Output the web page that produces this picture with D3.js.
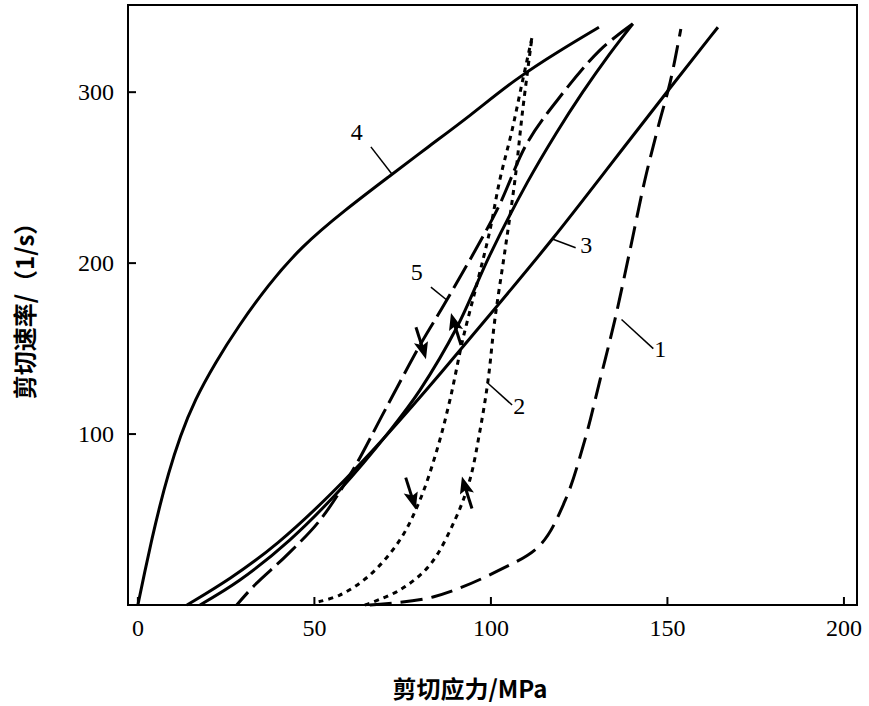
<!DOCTYPE html>
<html><head><meta charset="utf-8">
<script src="https://cdn.jsdelivr.net/npm/d3@7.9.0/dist/d3.min.js"></script>
<style>body{margin:0;background:#fff}</style>
</head><body>
<svg width="869" height="706"></svg>
<script>
// data in (shear stress MPa, shear rate 1/s)
const curve1 = [[65.7,0],[83.6,4.7],[102.5,20.5],[113.9,35],[121,61],[126.6,96.5],[130.9,131.6],[135.1,166.7],[139.4,207.6],[143.6,248.5],[147.8,283],[150.8,306],[153.8,337]];
const curve2Down = [[111.6,331.6],[109,307],[106,277.8],[102.5,248.5],[99.7,219],[96.3,190],[92,155],[88.4,120],[84.7,90.6],[79.9,61.4],[74.2,38],[65.7,17.5],[57.2,5.8],[51,1.8]];
const curve2Up = [[64.3,0],[74.2,8.8],[82.7,23.4],[89.8,49.7],[94,73],[96.9,102],[99.2,131.6],[101.1,166.7],[104,207.6],[106.8,248.5],[109,289.5],[111.6,331.6]];
const curve3 = [[13.9,0],[26,15],[39.4,35],[55,65],[70.5,99],[86,136],[101.4,174],[117.6,214],[134,258],[151.3,304],[164.3,338]];
const curve4 = [[0,0],[2,20],[4,39],[6.2,58],[8.5,76],[12,99],[16.1,120],[22,142],[28.3,162.6],[36.8,187],[46.2,209.5],[58.6,231],[71.7,251.5],[82.2,268],[94,286],[106.8,307.6],[120,325],[130.6,338]];
const curve5Up = [[17.6,0],[28.9,14.6],[43,38],[57.2,67.3],[71.4,102],[79.9,125.7],[90.4,162.6],[99.7,204.7],[110.2,246.8],[118.5,276],[126,300],[133.5,322],[140.2,340]];
const curve5Down = [[140.2,340],[130.9,324.6],[118.7,295],[110.2,270],[101.7,231],[87.5,178.4],[79.9,152],[70,114],[60.9,78.9],[51.6,49.7],[42.2,29.2],[33.1,11.7],[28,0]];
const xTicks = [0,50,100,150,200];
const yTicks = [100,200,300];
// arrows: [x, y, direction]
const arrows = [[79.9,152,'down'],[77,64,'down'],[90.4,162.6,'up'],[93.5,67,'up']];
// curve labels: text, label pos, leader start, leader end
const labels = [
  ['4',[62,272],[66,268],[72,252]],
  ['5',[79,190],[83,186],[87.5,178.4]],
  ['3',[127,206],[124,209],[117.6,214]],
  ['1',[148,145],[146,150],[137,167]],
  ['2',[108,112],[106,117],[99,130]]
];

const svg = d3.select('svg');
const mLeft = 128, mRight = 857, mTop = 5, mBottom = 605;
const x = d3.scaleLinear().domain([-2.8, 203.7]).range([mLeft, mRight]);
const y = d3.scaleLinear().domain([0, 351]).range([mBottom, mTop]);
const line = d3.line().x(d => x(d[0])).y(d => y(d[1])).curve(d3.curveCatmullRom);
const smooth = d3.line().x(d => x(d[0])).y(d => y(d[1])).curve(d3.curveBasis);

svg.append('rect').attr('x', mLeft).attr('y', mTop).attr('width', mRight - mLeft).attr('height', mBottom - mTop)
  .attr('fill', 'none').attr('stroke', '#000').attr('stroke-width', 2);

xTicks.forEach(t => {
  svg.append('line').attr('x1', x(t)).attr('x2', x(t)).attr('y1', mBottom).attr('y2', mBottom - 8).attr('stroke', '#000').attr('stroke-width', 2);
  svg.append('text').attr('x', x(t)).attr('y', 636).attr('text-anchor', 'middle')
    .attr('font-family', 'Liberation Serif').attr('font-size', 24).text(t);
});
yTicks.forEach(t => {
  svg.append('line').attr('x1', mLeft).attr('x2', mLeft + 8).attr('y1', y(t)).attr('y2', y(t)).attr('stroke', '#000').attr('stroke-width', 2);
  svg.append('text').attr('x', 114).attr('y', y(t) + 8).attr('text-anchor', 'end')
    .attr('font-family', 'Liberation Serif').attr('font-size', 24).text(t);
});

svg.append('text').attr('x', 470).attr('y', 698).attr('text-anchor', 'middle')
  .attr('font-family', 'Noto Sans CJK SC, Liberation Serif').attr('font-weight', 'bold').attr('font-size', 24)
  .text('剪切应力/MPa');
svg.append('text').attr('transform', 'translate(34,305) rotate(-90)').attr('text-anchor', 'middle')
  .attr('font-family', 'Noto Sans CJK SC, Liberation Serif').attr('font-weight', 'bold').attr('font-size', 24)
  .text('剪切速率/（1/s）');

const draw = (data, dash, gen = line) => svg.append('path').attr('d', gen(data)).attr('fill', 'none')
  .attr('stroke', '#000').attr('stroke-width', 3).attr('stroke-dasharray', dash);

draw(curve1, '22,9');
draw(curve2Down, '5,5');
draw(curve2Up, '5,5');
draw(curve3, null, smooth);
draw(curve4, null, smooth);
draw(curve5Up, null);
draw(curve5Down, '26,7');

arrows.forEach(([ax, ay, dir]) => {
  const s = dir === 'up' ? -1 : 1;
  const px = x(ax), py = y(ay);
  svg.append('line').attr('x1', px - 4 * s).attr('y1', py - 18 * s).attr('x2', px + 3 * s).attr('y2', py + 4 * s)
    .attr('stroke', '#000').attr('stroke-width', 3);
  svg.append('path')
    .attr('d', `M${px + 6 * s},${py + 14 * s} L${px - 6 * s},${py - 2 * s} L${px + 3 * s},${py} L${px + 8 * s},${py - 4 * s} Z`)
    .attr('fill', '#000');
});

labels.forEach(([t, p, a, b]) => {
  svg.append('text').attr('x', x(p[0])).attr('y', y(p[1])).attr('text-anchor', 'middle')
    .attr('font-family', 'Liberation Serif').attr('font-size', 24).text(t);
  svg.append('line').attr('x1', x(a[0])).attr('y1', y(a[1])).attr('x2', x(b[0])).attr('y2', y(b[1]))
    .attr('stroke', '#000').attr('stroke-width', 1.5);
});
</script>
</body></html>
